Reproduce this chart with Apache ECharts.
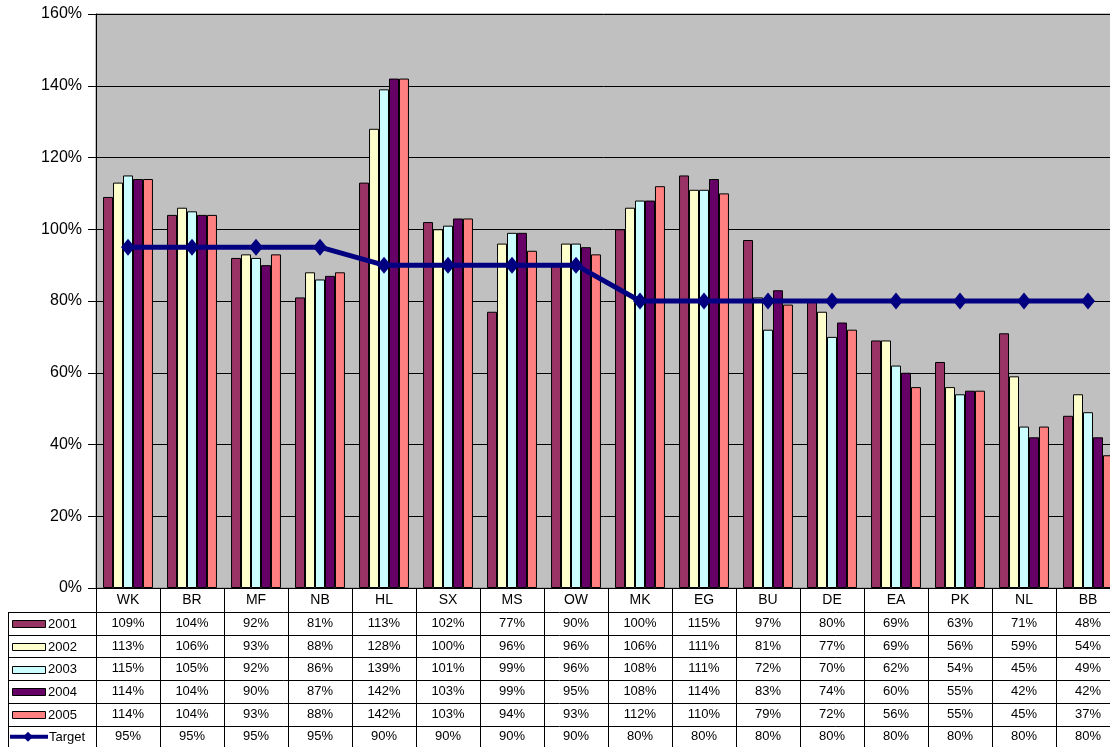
<!DOCTYPE html>
<html>
<head>
<meta charset="utf-8">
<script src="https://cdn.jsdelivr.net/npm/echarts@6/dist/echarts.min.js"></script>
<style>
html,body{margin:0;padding:0;background:#fff;}
#chart{width:1110px;height:747px;}
</style>
</head>
<body>
<div id="chart"></div>
<script>
const categories = ['WK','BR','MF','NB','HL','SX','MS','OW','MK','EG','BU','DE','EA','PK','NL','BB'];
const v2001 = [109,104,92,81,113,102,77,90,100,115,97,80,69,63,71,48];
const v2002 = [113,106,93,88,128,100,96,96,106,111,81,77,69,56,59,54];
const v2003 = [115,105,92,86,139,101,99,96,108,111,72,70,62,54,45,49];
const v2004 = [114,104,90,87,142,103,99,95,108,114,83,74,60,55,42,42];
const v2005 = [114,104,93,88,142,103,94,93,112,110,79,72,56,55,45,37];
const target = [95,95,95,95,90,90,90,90,80,80,80,80,80,80,80,80];
const yTicks = [0,20,40,60,80,100,120,140,160];

const seriesNames = ['2001','2002','2003','2004','2005'];
const seriesData = [v2001,v2002,v2003,v2004,v2005];
const seriesColors = ['#993366','#FFFFCC','#CCFFFF','#660066','#FF8080'];
const targetColor = '#000080';
const FONT = 'Arial, "Liberation Sans", sans-serif';

const chart = echarts.init(document.getElementById('chart'), null, {renderer:'canvas'});

const gridLeft = 96, gridTop = 14, gridWidth = 1024, gridHeight = 574;
const colW = gridWidth / categories.length;
const tableTop = 612, rowH = 22.7;
const tableBottom = 760;

const graphics = [];
for (let k = 0; k <= categories.length; k++) {
  const x = Math.round(gridLeft + k * colW) + 0.5;
  graphics.push({type:'line', silent:true, shape:{x1:x,y1:gridTop+gridHeight,x2:x,y2:tableBottom}, style:{stroke:'#000',lineWidth:1}});
}
graphics.push({type:'line', silent:true, shape:{x1:8.5,y1:tableTop,x2:8.5,y2:tableBottom}, style:{stroke:'#000',lineWidth:1}});
for (let j = 0; j <= 6; j++) {
  const y = Math.round(tableTop + j * rowH) + 0.5;
  graphics.push({type:'line', silent:true, shape:{x1:8,y1:y,x2:1120,y2:y}, style:{stroke:'#000',lineWidth:1}});
}
const rows = seriesData.concat([target]);
const rowNames = seriesNames.concat(['Target']);
rows.forEach((arr, j) => {
  const cy = tableTop + (j + 0.5) * rowH;
  arr.forEach((v, i) => {
    graphics.push({type:'text', silent:true, x: gridLeft + (i + 0.5) * colW, y: cy,
      style:{text: Math.round(v) + '%', fill:'#000', font:'13px ' + FONT, textAlign:'center', textVerticalAlign:'middle'}});
  });
  if (j < 5) {
    graphics.push({type:'rect', silent:true, shape:{x:12.5,y:Math.round(cy-3)+0.5,width:33,height:7},
      style:{fill:seriesColors[j], stroke:'#000', lineWidth:1}});
  } else {
    graphics.push({type:'line', silent:true, shape:{x1:10,y1:cy,x2:48,y2:cy}, style:{stroke:targetColor,lineWidth:4}});
    graphics.push({type:'polygon', silent:true, shape:{points:[[28,cy-5],[33,cy],[28,cy+5],[23,cy]]}, style:{fill:targetColor}});
  }
  graphics.push({type:'text', silent:true, x: j < 5 ? 48 : 49, y: cy + 1,
    style:{text: rowNames[j], fill:'#000', font:'13px ' + FONT, textAlign:'left', textVerticalAlign:'middle'}});
});

const series = seriesData.map((d, i) => ({
  name: seriesNames[i], type:'bar', data: d,
  barGap:'0%', barCategoryGap:'22%',
  itemStyle:{color: seriesColors[i], borderColor:'#000', borderWidth:1},
  z: 2
}));
series.push({
  name:'Target', type:'line', data: target,
  lineStyle:{color: targetColor, width:5},
  itemStyle:{color: targetColor},
  symbol:'diamond', symbolSize:[14,17], z: 5
});

chart.setOption({
  animation:false,
  textStyle:{fontFamily: FONT},
  grid:{left:gridLeft, top:gridTop, width:gridWidth, height:gridHeight, show:true,
    outerBoundsMode:'none', containLabel:false,
    backgroundColor:'#C0C0C0', borderColor:'#808080', borderWidth:1},
  xAxis:{type:'category', data:categories,
    axisLine:{show:true, lineStyle:{color:'#000', width:1}},
    axisTick:{show:false},
    axisLabel:{fontSize:14, color:'#000', margin:5, fontFamily: FONT}},
  yAxis:{type:'value', min:yTicks[0], max:yTicks[yTicks.length-1], interval:20,
    axisLine:{show:true, lineStyle:{color:'#000', width:1}},
    axisTick:{show:true, length:8, lineStyle:{color:'#000'}},
    splitLine:{show:true, lineStyle:{color:'#000', width:1}},
    axisLabel:{fontSize:16, color:'#000', margin:14, formatter:'{value}%', fontFamily: FONT}},
  series: series,
  graphic: graphics
});
</script>
</body>
</html>
